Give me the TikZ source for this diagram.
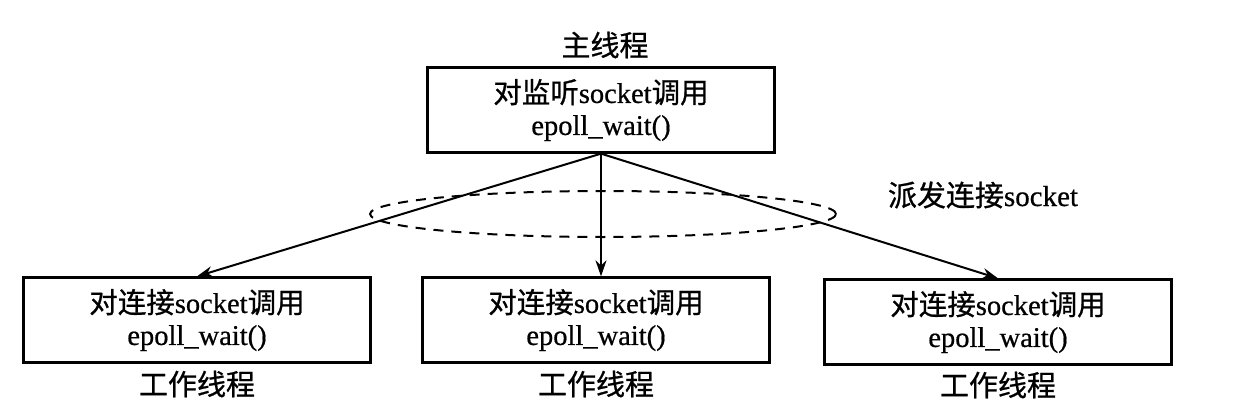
\documentclass[tikz,border=0pt]{standalone}
\usepackage{fontspec}
\setmainfont{Liberation Serif}[FakeBold=0.6]
\newfontfamily\cjk{Noto Sans CJK SC}[FakeBold=0.8]
\usetikzlibrary{arrows.meta,shapes.geometric}
\begin{document}
\begin{tikzpicture}[x=1pt,y=-1pt,
  box/.style={draw, line width=2.3pt, minimum width=347pt, minimum height=85pt, inner sep=0pt, align=center, font=\fontsize{28.5}{32}\selectfont},
  lbl/.style={font=\fontsize{29}{30}\selectfont\cjk, inner sep=0pt},
  conn/.style={line width=2pt, -{Stealth[length=16pt,width=11pt]}}]
\useasboundingbox (0,0) rectangle (1242,417);
\node[box] (top) at (601,110) {{\cjk 对监听}socket{\cjk 调用}\\epoll\_wait()};
\node[box] (b1) at (197,320) {{\cjk 对连接}socket{\cjk 调用}\\epoll\_wait()};
\node[box] (b2) at (596,320) {{\cjk 对连接}socket{\cjk 调用}\\epoll\_wait()};
\node[box] (b3) at (998,322) {{\cjk 对连接}socket{\cjk 调用}\\epoll\_wait()};
\node[lbl] (tl) at (605,45) {主线程};
\node[lbl] (l1) at (197,384) {工作线程};
\node[lbl] (l2) at (596,384) {工作线程};
\node[lbl] (l3) at (998,385) {工作线程};
\node[lbl] (disp) at (983,195) {派发连接{\rmfamily socket}};
\node[draw, dash pattern=on 10pt off 8pt, line width=2pt, ellipse, minimum width=466pt, minimum height=46pt, inner sep=0pt] (ell) at (603,214) {};
\coordinate (src) at (top.south);
\draw[conn] (src) -- (b1.north);
\draw[conn] (src) -- (b2.north -| src);
\draw[conn] (src) -- (b3.north);
\end{tikzpicture}
\end{document}
